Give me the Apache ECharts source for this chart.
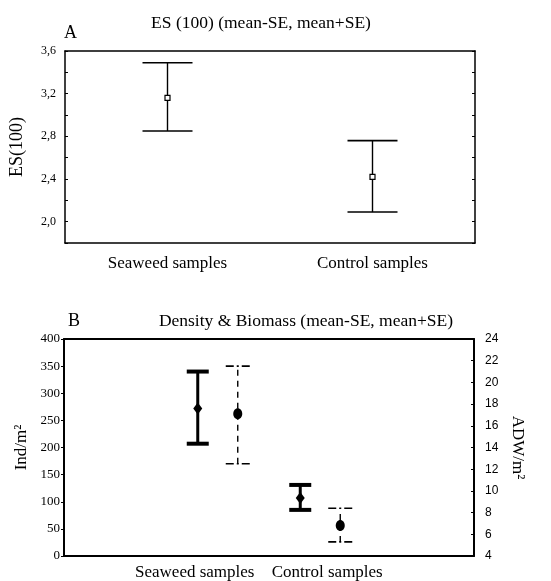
<!DOCTYPE html>
<html>
<head>
<meta charset="utf-8">
<script src="https://cdn.jsdelivr.net/npm/echarts@6/dist/echarts.min.js"></script>
<style>
  html, body { margin: 0; padding: 0; background: #fff; }
  #chart { width: 551px; height: 581px; }
</style>
</head>
<body>
<div id="chart"></div>
<script>
// panel A : ES(100)
var groupsA = ['Seaweed samples', 'Control samples'];
var esMean = [3.16, 2.42];
var esLow = [2.85, 2.09];
var esHigh = [3.49, 2.76];

// panel B : density (left axis) and biomass (right axis)
var groupsB = ['', 'Seaweed samples', 'Control samples', ''];
var densMean = [272, 107];
var densLow = [207, 85];
var densHigh = [340, 131];
var bioMean = [17.1, 6.8];
var bioLow = [12.5, 5.3];
var bioHigh = [21.5, 8.4];

var serif = '"Liberation Serif", "Times New Roman", serif';
var sans = '"Liberation Sans", Arial, sans-serif';

function rows(idx0, low, high, mean) {
  return mean.map(function (m, i) { return [i + idx0, low[i], high[i], m]; });
}

function barA(params, api) {
  var lo = api.coord([api.value(0), api.value(1)]);
  var hi = api.coord([api.value(0), api.value(2)]);
  var mid = api.coord([api.value(0), api.value(3)]);
  var cx = lo[0], hw = 25;
  return { type: 'group', children: [
    { type: 'line', shape: { x1: cx, y1: lo[1], x2: cx, y2: hi[1] }, style: { stroke: '#000', lineWidth: 1.4 } },
    { type: 'line', shape: { x1: cx - hw, y1: lo[1], x2: cx + hw, y2: lo[1] }, style: { stroke: '#000', lineWidth: 1.6 } },
    { type: 'line', shape: { x1: cx - hw, y1: hi[1], x2: cx + hw, y2: hi[1] }, style: { stroke: '#000', lineWidth: 1.6 } },
    { type: 'rect', shape: { x: cx - 2.5, y: mid[1] - 2.5, width: 5, height: 5 }, style: { fill: '#fff', stroke: '#000', lineWidth: 1.2 } }
  ]};
}

function barSolid(params, api) {
  var lo = api.coord([api.value(0), api.value(1)]);
  var hi = api.coord([api.value(0), api.value(2)]);
  var mid = api.coord([api.value(0), api.value(3)]);
  var cx = lo[0] - 20, hw = 11;
  return { type: 'group', children: [
    { type: 'line', shape: { x1: cx, y1: lo[1], x2: cx, y2: hi[1] }, style: { stroke: '#000', lineWidth: 3 } },
    { type: 'line', shape: { x1: cx - hw, y1: lo[1], x2: cx + hw, y2: lo[1] }, style: { stroke: '#000', lineWidth: 4 } },
    { type: 'line', shape: { x1: cx - hw, y1: hi[1], x2: cx + hw, y2: hi[1] }, style: { stroke: '#000', lineWidth: 4 } },
    { type: 'polygon', shape: { points: [[cx, mid[1] - 6], [cx + 4.5, mid[1]], [cx, mid[1] + 6], [cx - 4.5, mid[1]]] }, style: { fill: '#000' } }
  ]};
}

function barDashed(params, api) {
  var lo = api.coord([api.value(0), api.value(1)]);
  var hi = api.coord([api.value(0), api.value(2)]);
  var mid = api.coord([api.value(0), api.value(3)]);
  var cx = lo[0] + 20, hw = 12;
  var capStyle = { stroke: '#000', lineWidth: 1.6, lineDash: [8, 3, 2, 3, 8] };
  return { type: 'group', children: [
    { type: 'line', shape: { x1: cx, y1: lo[1], x2: cx, y2: hi[1] }, style: { stroke: '#000', lineWidth: 1.4, lineDash: [6, 5] } },
    { type: 'line', shape: { x1: cx - hw, y1: lo[1], x2: cx + hw, y2: lo[1] }, style: capStyle },
    { type: 'line', shape: { x1: cx - hw, y1: hi[1], x2: cx + hw, y2: hi[1] }, style: capStyle },
    { type: 'ellipse', shape: { cx: cx, cy: mid[1], rx: 4.5, ry: 5.5 }, style: { fill: '#000' } }
  ]};
}

function esLabel(v) {
  var k = Math.round(v * 10);
  if (k % 4 !== 0) return '';
  return (k / 10).toFixed(1).replace('.', ',');
}

var chart = echarts.init(document.getElementById('chart'), null, { renderer: 'canvas' });

chart.setOption({
  animation: false,
  backgroundColor: '#fff',
  grid: [
    { left: 64, top: 51, width: 411, height: 192 },
    { left: 64, top: 339, width: 410, height: 217 }
  ],
  graphic: [
    { type: 'text', x: 261, y: 23, style: { text: 'ES (100) (mean-SE, mean+SE)', font: '17.5px ' + serif, fill: '#000', textAlign: 'center', textVerticalAlign: 'middle' } },
    { type: 'text', x: 64, y: 33, style: { text: 'A', font: '18px ' + serif, fill: '#000', textAlign: 'left', textVerticalAlign: 'middle' } },
    { type: 'text', x: 306, y: 321, style: { text: 'Density & Biomass (mean-SE, mean+SE)', font: '17.5px ' + serif, fill: '#000', textAlign: 'center', textVerticalAlign: 'middle' } },
    { type: 'text', x: 68, y: 321, style: { text: 'B', font: '18px ' + serif, fill: '#000', textAlign: 'left', textVerticalAlign: 'middle' } }
  ],
  xAxis: [
    { gridIndex: 0, type: 'category', data: groupsA, boundaryGap: true,
      axisLine: { lineStyle: { color: '#000', width: 1.5 } },
      axisTick: { inside: true, length: 3, lineStyle: { color: '#000' } },
      axisLabel: { color: '#000', fontFamily: serif, fontSize: 17, margin: 12 } },
    { gridIndex: 0, type: 'category', data: groupsA, position: 'top', boundaryGap: true,
      axisLine: { lineStyle: { color: '#000', width: 1.5 } },
      axisTick: { inside: true, length: 3, lineStyle: { color: '#000' } },
      axisLabel: { show: false } },
    { gridIndex: 1, type: 'category', data: groupsB, boundaryGap: true,
      axisLine: { lineStyle: { color: '#000', width: 2 } },
      axisTick: { show: false },
      axisLabel: { color: '#000', fontFamily: serif, fontSize: 17, margin: 8,
        interval: 0, hideOverlap: false,
        formatter: function (v) {
          if (v === groupsB[1]) return '{a|' + v + '}';
          if (v === groupsB[2]) return '{b|' + v + '}';
          return '';
        },
        rich: {
          a: { fontFamily: serif, fontSize: 17, color: '#000', padding: [0, 46, 0, 0] },
          b: { fontFamily: serif, fontSize: 17, color: '#000', padding: [0, 0, 0, 14] }
        } } },
    { gridIndex: 1, type: 'category', data: groupsB, position: 'top', boundaryGap: true,
      axisLine: { lineStyle: { color: '#000', width: 2 } },
      axisTick: { show: false }, axisLabel: { show: false } }
  ],
  yAxis: [
    { gridIndex: 0, type: 'value', min: 1.8, max: 3.6, interval: 0.2,
      name: 'ES(100)', nameLocation: 'middle', nameGap: 39,
      nameTextStyle: { color: '#000', fontFamily: serif, fontSize: 18 },
      axisLine: { show: true, lineStyle: { color: '#000', width: 1.5 } },
      axisTick: { show: true, inside: true, length: 3, lineStyle: { color: '#000' } },
      axisLabel: { color: '#000', fontFamily: serif, fontSize: 12, margin: 9, formatter: esLabel },
      splitLine: { show: false } },
    { gridIndex: 0, type: 'value', min: 1.8, max: 3.6, interval: 0.2, position: 'right',
      axisLine: { show: true, lineStyle: { color: '#000', width: 1.5 } },
      axisTick: { show: true, inside: true, length: 3, lineStyle: { color: '#000' } },
      axisLabel: { show: false }, splitLine: { show: false } },
    { gridIndex: 1, type: 'value', min: 0, max: 400, interval: 50,
      name: 'Ind/m²', nameLocation: 'middle', nameGap: 29,
      nameTextStyle: { color: '#000', fontFamily: serif, fontSize: 17 },
      axisLine: { show: true, lineStyle: { color: '#000', width: 2 } },
      axisTick: { show: true, length: 3, lineStyle: { color: '#000' } },
      axisLabel: { color: '#000', fontFamily: serif, fontSize: 13, margin: 4 },
      splitLine: { show: false } },
    { gridIndex: 1, type: 'value', min: 4, max: 24, interval: 2, position: 'right',
      name: 'ADW/m²', nameLocation: 'middle', nameGap: 30, nameRotate: -90,
      nameTextStyle: { color: '#000', fontFamily: serif, fontSize: 17 },
      axisLine: { show: true, lineStyle: { color: '#000', width: 2 } },
      axisTick: { show: true, inside: true, length: 3, lineStyle: { color: '#000' } },
      axisLabel: { color: '#000', fontFamily: sans, fontSize: 12, margin: 11 },
      splitLine: { show: false } }
  ],
  series: [
    { type: 'custom', xAxisIndex: 0, yAxisIndex: 0, renderItem: barA,
      encode: { x: 0, y: [1, 2, 3] }, data: rows(0, esLow, esHigh, esMean) },
    { type: 'custom', xAxisIndex: 2, yAxisIndex: 2, renderItem: barSolid,
      encode: { x: 0, y: [1, 2, 3] }, data: rows(1, densLow, densHigh, densMean) },
    { type: 'custom', xAxisIndex: 2, yAxisIndex: 3, renderItem: barDashed,
      encode: { x: 0, y: [1, 2, 3] }, data: rows(1, bioLow, bioHigh, bioMean) }
  ]
});
</script>
</body>
</html>
